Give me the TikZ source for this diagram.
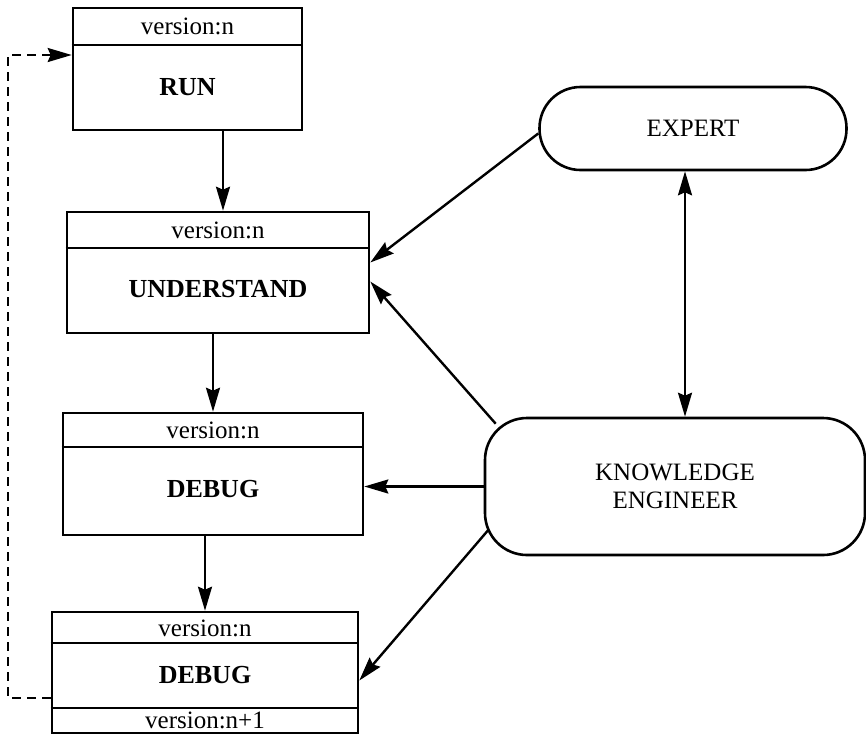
\documentclass[tikz,border=0pt]{standalone}
\usepackage{fontspec}
\setmainfont{Liberation Serif}
\usetikzlibrary{arrows.meta,calc}
\begin{document}
\begin{tikzpicture}[x=1pt,y=-1pt,
  every node/.style={font=\fontsize{25}{28}\selectfont, inner sep=0pt},
  box/.style={draw, line width=2.6pt, rectangle},
  lbl/.style={font=\fontsize{25}{28}\selectfont},
  ttl/.style={font=\fontsize{26}{28}\selectfont\bfseries},
  actor/.style={draw, line width=2.6pt, rectangle, align=center},
  tip/.tip={Stealth[length=24pt,width=14pt,inset=3pt]},
  arr/.style={line width=2.4pt, -tip},
  darr/.style={line width=2.4pt, tip-tip},
  dash arr/.style={line width=2.4pt, dash pattern=on 9pt off 6pt, -tip}
]
\useasboundingbox (0,0) rectangle (866,740);

% process boxes
\node[box, minimum width=229pt, minimum height=122pt] (run) at (187.5,69) {};
\node[box, minimum width=302pt, minimum height=121pt] (und) at (218,272.5) {};
\node[box, minimum width=300pt, minimum height=122pt] (dbg) at (213,474) {};
\node[box, minimum width=306pt, minimum height=121pt] (dbgb) at (205,672.5) {};

% dividers
\draw[line width=2.6pt] (run.west |- 0,45) -- (run.east |- 0,45);
\draw[line width=2.6pt] (und.west |- 0,248) -- (und.east |- 0,248);
\draw[line width=2.6pt] (dbg.west |- 0,447) -- (dbg.east |- 0,447);
\draw[line width=2.6pt] (dbgb.west |- 0,643) -- (dbgb.east |- 0,643);
\draw[line width=2.6pt] (dbgb.west |- 0,708) -- (dbgb.east |- 0,708);

% texts
\node[lbl] (runv) at (187.5,26) {version:n};
\node[ttl] (runt) at (187.5,87) {RUN};
\node[lbl] (undv) at (218,230) {version:n};
\node[ttl] (undt) at (218,289) {UNDERSTAND};
\node[lbl] (dbgv) at (213,430) {version:n};
\node[ttl] (dbgt) at (213,489) {DEBUG};
\node[lbl] (dbgbv) at (205,628) {version:n};
\node[ttl] (dbgbt) at (205,675) {DEBUG};
\node[lbl] (dbgbw) at (205,720) {version:n+1};

% actors
\node[actor, rounded corners=41pt, minimum width=307pt, minimum height=83pt] (exp) at (693,128.5) {EXPERT};
\node[actor, rounded corners=42pt, minimum width=380pt, minimum height=137pt] (ke) at (675,486.5) {KNOWLEDGE\\ENGINEER};

% vertical flow arrows
\draw[arr] (run.south -| 223,0) -- (und.north -| 223,0);
\draw[arr] (und.south -| dbg.north) -- (dbg.north);
\draw[arr] (dbg.south -| dbgb.north) -- (dbgb.north);

% feedback loop
\draw[dash arr] (dbgb.west |- 0,698) -- (8,698) -- (8,55) -- (run.west |- 0,55);

% actor arrows
\draw[arr] ([yshift=-5pt]exp.west) -- ([yshift=10pt]und.east);
\draw[arr] ([shift={(12pt,-7pt)}]ke.north west) -- ([yshift=-9pt]und.east);
\draw[arr] (ke.west) -- (ke.west -| dbg.east);
\draw[arr] ([shift={(5pt,-43pt)}]ke.west) -- ([yshift=-8pt]dbgb.east);
\draw[darr] ([xshift=-8pt]exp.south) -- ([xshift=-8pt]exp.south |- ke.north);
\end{tikzpicture}
\end{document}
